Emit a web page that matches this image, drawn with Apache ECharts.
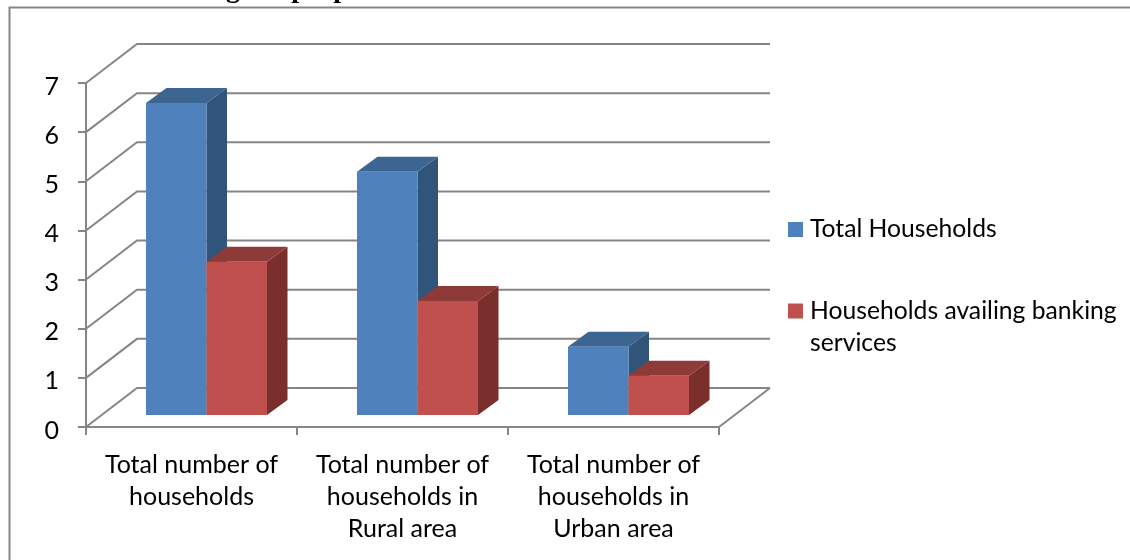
<!DOCTYPE html>
<html>
<head>
<meta charset="utf-8">
<style>html,body{margin:0;padding:0;background:#fff}#c{width:1130px;height:560px}</style>
<script src="https://cdn.jsdelivr.net/npm/echarts@6/dist/echarts.min.js"></script>
</head>
<body>
<div id="c"></div>
<script>
const categories = ['Total number of\nhouseholds', 'Total number of\nhouseholds in\nRural area', 'Total number of\nhouseholds in\nUrban area'];
const totalHouseholds = [6.35, 4.95, 1.39];
const bankingHouseholds = [3.12, 2.32, 0.8];
const yTicks = [0, 1, 2, 3, 4, 5, 6, 7];
const seriesNames = ['Total Households', 'Households availing banking\nservices'];
const headingFragment = 'g  of  people';

const FONT = 'Lato, "Open Sans", sans-serif';
const GRID = '#868686';
const WALL = [51, -39];
const BAR_OFFSET = [15, -12];
const BAR_DEPTH = [20.5, -15];
const BAR_W = 60.5;

const chart = echarts.init(document.getElementById('c'), null, {renderer: 'canvas'});

function pts(list) { return {points: list}; }

function barRenderer(side, colors) {
  return function (params, api) {
    const idx = api.value(0);
    const base = api.coord([idx, 0]);
    const top = api.coord([idx, api.value(1)]);
    const x0 = base[0] + BAR_OFFSET[0] + (side === 0 ? -BAR_W : 0);
    const x1 = x0 + BAR_W;
    const yb = base[1] + BAR_OFFSET[1];
    const yt = top[1] + BAR_OFFSET[1];
    const dx = BAR_DEPTH[0], dy = BAR_DEPTH[1];
    return {type: 'group', children: [
      {type: 'polygon', shape: pts([[x1, yb], [x1 + dx, yb + dy], [x1 + dx, yt + dy], [x1, yt]]), style: {fill: colors[2]}},
      {type: 'polygon', shape: pts([[x0, yt], [x0 + dx, yt + dy], [x1 + dx, yt + dy], [x1, yt]]), style: {fill: colors[1]}},
      {type: 'polygon', shape: pts([[x0, yb], [x1, yb], [x1, yt], [x0, yt]]), style: {fill: colors[0]}}
    ]};
  };
}

function wallRenderer(params, api) {
  const v = api.value(0);
  const band = api.size([1, 0])[0];
  const first = api.coord([0, v]);
  const last = api.coord([categories.length - 1, v]);
  const left = [first[0] - band / 2, first[1]];
  const right = [last[0] + band / 2, last[1]];
  const lineStyle = {stroke: GRID, lineWidth: 2, fill: null};
  const children = [
    {type: 'polyline', shape: pts([left, [left[0] + WALL[0], left[1] + WALL[1]], [right[0] + WALL[0], right[1] + WALL[1]]]), style: lineStyle}
  ];
  if (v === 0) {
    children.push({type: 'line', shape: {x1: right[0], y1: right[1], x2: right[0] + WALL[0], y2: right[1] + WALL[1]}, style: lineStyle});
  }
  return {type: 'group', children};
}

const iconSingle = 'path://M0 16h15v15H0z M0 0h15 M0 47h15';
const iconDouble = 'path://M0 0h15v15H0z M0 47h15';

chart.setOption({
  animation: false,
  backgroundColor: '#fff',
  grid: {left: 86, top: 83, width: 633, height: 344},
  xAxis: {
    type: 'category', data: categories, boundaryGap: true,
    axisLine: {lineStyle: {color: GRID, width: 2}},
    axisTick: {show: true, length: 8, alignWithLabel: false, lineStyle: {color: GRID, width: 2}},
    axisLabel: {color: '#000', fontFamily: FONT, fontSize: 25, lineHeight: 32, margin: 22, interval: 0},
    splitLine: {show: false}
  },
  yAxis: {
    type: 'value', min: 0, max: 7, interval: 1,
    axisLine: {show: true, lineStyle: {color: GRID, width: 2}},
    axisTick: {show: true, length: 8, lineStyle: {color: GRID, width: 2}},
    axisLabel: {
      margin: 27, formatter: '{n|{value}}',
      rich: {n: {color: '#000', fontFamily: FONT, fontSize: 25, padding: [7, 0, 0, 0]}}
    },
    splitLine: {show: false}
  },
  legend: {
    orient: 'vertical', left: 788, top: 206, padding: 0,
    itemWidth: 15, itemHeight: 47, itemGap: 42, selectedMode: false,
    textStyle: {color: '#000', fontFamily: FONT, fontSize: 24.7, lineHeight: 32, padding: [0, 0, 0, 2]},
    data: [{name: seriesNames[0], icon: iconSingle}, {name: seriesNames[1], icon: iconDouble}]
  },
  graphic: [
    {type: 'polyline', shape: {points: [[9.5, 560], [9.5, 7.5], [1130, 7.5]]}, style: {stroke: GRID, lineWidth: 2, fill: null}},
    {type: 'text', x: 226, y: 4, style: {text: headingFragment, font: 'bold 28px "Liberation Serif", serif', fill: '#000', verticalAlign: 'bottom'}}
  ],
  series: [
    {type: 'custom', name: 'wall', silent: true, clip: false, z: 1, coordinateSystem: 'cartesian2d', renderItem: wallRenderer, data: yTicks.map(v => [v]), encode: {y: 0}},
    {type: 'custom', name: seriesNames[0], clip: false, z: 2, itemStyle: {color: '#4F81BD'},
     renderItem: barRenderer(0, ['#4F81BD', '#3C6592', '#31547B']),
     data: totalHouseholds.map((v, i) => [i, v]), encode: {x: 0, y: 1}},
    {type: 'custom', name: seriesNames[1], clip: false, z: 3, itemStyle: {color: '#C0504D'},
     renderItem: barRenderer(1, ['#C0504D', '#8E3A38', '#7B2F2D']),
     data: bankingHouseholds.map((v, i) => [i, v]), encode: {x: 0, y: 1}}
  ]
});
</script>
</body>
</html>
